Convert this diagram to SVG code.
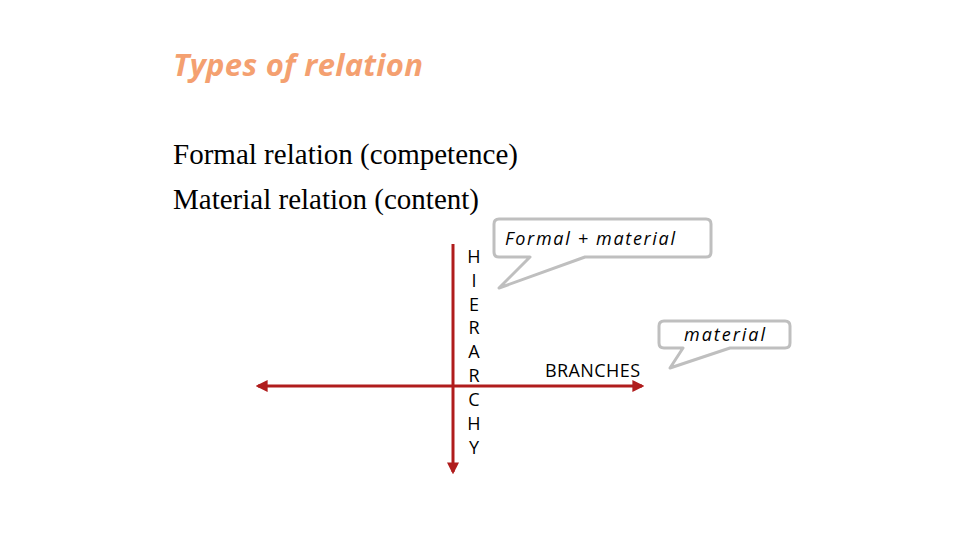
<svg xmlns="http://www.w3.org/2000/svg" width="960" height="540" viewBox="0 0 960 540">
<style>
.ser{font-family:"Liberation Serif",serif;font-size:29px;fill:#000}
.sans{font-family:"Open Sans","Liberation Sans",sans-serif;font-size:18px;fill:#000}
.call{fill:#fff;stroke:#bfbfbf;stroke-width:3;stroke-linejoin:round}
.ax{stroke:#b01c1c;stroke-width:3;fill:none}
</style>
<defs><marker id="ah" viewBox="0 0 10 10" refX="8" refY="5" markerWidth="4" markerHeight="4" orient="auto"><path d="M0,0L10,5L0,10z" fill="#b01c1c"/></marker></defs>
<rect width="960" height="540" fill="#fff"/>
<text x="173" y="76" font-family="'Open Sans','Liberation Sans',sans-serif" font-size="31" font-weight="bold" font-style="italic" fill="#f4a070" textLength="250">Types of relation</text>
<text class="ser" x="173" y="164" textLength="345">Formal relation (competence)</text>
<text class="ser" x="173" y="209" textLength="306">Material relation (content)</text>
<g id="connectors">
<line class="ax" x1="453" y1="244" x2="453" y2="472" marker-end="url(#ah)"/>
<line class="ax" x1="453" y1="386" x2="258" y2="386" marker-end="url(#ah)"/>
<line class="ax" x1="453" y1="386" x2="642" y2="386" marker-end="url(#ah)"/>
</g>
<g id="hierarchy"><text class="sans" text-anchor="middle"><tspan x="474" y="263">H</tspan><tspan x="474" y="287">I</tspan><tspan x="474" y="311">E</tspan><tspan x="474" y="334">R</tspan><tspan x="474" y="358">A</tspan><tspan x="474" y="382">R</tspan><tspan x="474" y="406">C</tspan><tspan x="474" y="430">H</tspan><tspan x="474" y="454">Y</tspan></text></g>
<g id="branches"><text class="sans" x="545" y="377" textLength="95">BRANCHES</text></g>
<g id="callout1"><path class="call" d="M501,219H706Q711,219 711,224V252Q711,257 706,257H585L499,288L530,257H499Q494,257 494,252V224Q494,219 499,219Z"/><text class="sans" x="505" y="245" font-size="21" font-style="italic" textLength="170">Formal + material</text></g>
<g id="callout2"><path class="call" d="M664,321H785Q790,321 790,326V343Q790,348 785,348H730L670,368L683,348H664Q659,348 659,343V326Q659,321 664,321Z"/><text class="sans" x="684" y="341" font-size="21" font-style="italic" textLength="81">material</text></g>
</svg>
